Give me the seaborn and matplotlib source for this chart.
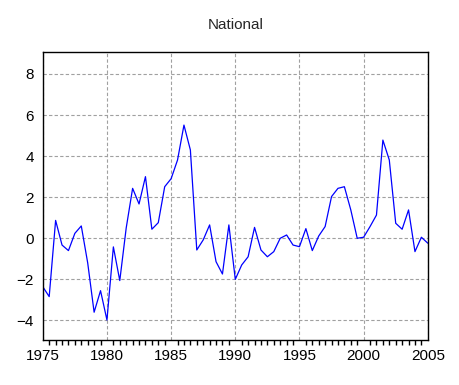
import numpy as np
import pandas as pd
import matplotlib
matplotlib.use("Agg")
import matplotlib.pyplot as plt
from matplotlib.ticker import MultipleLocator
import seaborn as sns

# Semiannual observations, 1975S1 .. 2005S1
start_year = 1975
values = [
    -2.36, -2.84, 0.87, -0.33, -0.60, 0.24, 0.60, -1.20, -3.60, -2.55,
    -3.98, -0.42, -2.06, 0.50, 2.43, 1.67, 3.00, 0.44, 0.76, 2.51,
    2.90, 3.81, 5.51, 4.30, -0.57, -0.08, 0.65, -1.14, -1.74, 0.65,
    -2.00, -1.30, -0.90, 0.53, -0.57, -0.90, -0.65, 0.00, 0.16, -0.33,
    -0.41, 0.47, -0.60, 0.11, 0.57, 2.03, 2.43, 2.51, 1.38, 0.00,
    0.05, 0.57, 1.13, 4.78, 3.81, 0.73, 0.44, 1.38, -0.65, 0.05,
    -0.24,
]
x_ticks = [1975, 1980, 1985, 1990, 1995, 2000, 2005]
y_ticks = [-4, -2, 0, 2, 4, 6, 8]

df = pd.DataFrame({
    "period": start_year + 0.5 * np.arange(len(values)),
    "value": values,
})

sns.set_style("white")
plt.rcParams["font.family"] = ["Liberation Sans", "DejaVu Sans"]

fig = plt.figure(figsize=(4.6, 3.85), dpi=100)
ax = fig.add_axes([0.093, 0.117, 0.837, 0.747])

sns.lineplot(data=df, x="period", y="value", color="#0000ff", linewidth=0.9, ax=ax)

ax.set_xlim(1975, 2005)
ax.set_ylim(-4.95, 9.05)
ax.set_xticks(x_ticks)
ax.set_yticks(y_ticks)
ax.xaxis.set_minor_locator(MultipleLocator(0.5))
ax.grid(True, which="major", color="#a0a0a0", linestyle=(0, (3, 2)), linewidth=0.8)
ax.tick_params(axis="both", which="major", direction="out", length=3.5, width=1.0,
               labelsize=11, colors="black", pad=3)
ax.tick_params(axis="x", which="minor", direction="out", length=3.5, width=1.0,
               bottom=True, colors="black")
ax.tick_params(axis="x", which="both", top=False)
ax.tick_params(axis="y", which="both", right=False)
for s in ax.spines.values():
    s.set_color("black")
    s.set_linewidth(1.0)
ax.set_xlabel("")
ax.set_ylabel("")
ax.set_title("National", fontsize=11, pad=17)

fig.savefig("out.png", dpi=100, facecolor="white")
